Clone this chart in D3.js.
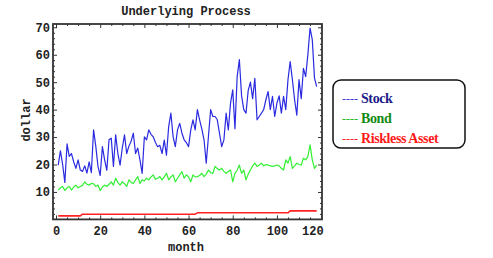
<!DOCTYPE html>
<html>
<head>
<meta charset="utf-8">
<script src="https://cdn.jsdelivr.net/npm/d3@7"></script>
<style>
  body { margin: 0; background: #fff; }
  svg text { font-family: "Liberation Mono", "DejaVu Sans Mono", monospace; }
  .tick text { font-size: 12px; font-weight: bold; fill: #222; }
  .tick line { stroke: #333; stroke-width: 1; }
</style>
</head>
<body>
<div id="chart"></div>
<script>
// months 1..118
var stock = [
  19.8, 25, 20, 13.5, 27.5, 23, 24, 21, 18.6, 21.7,
  18, 17.5, 19.5, 16.9, 21, 17, 32.6, 26.7, 19.3, 16,
  26.5, 21.7, 17.9, 29, 29.6, 19.3, 30.8, 24, 19.8, 26,
  30.8, 24, 26.7, 28.5, 31.4, 24, 26, 21.7, 16.8, 30.1,
  29, 32.6, 31, 30.1, 28, 26.5, 27, 24, 28.9, 23.4,
  33.8, 38.7, 30.2, 26.5, 32.6, 35, 31.4, 29, 28, 26.5,
  32.6, 36.3, 32.6, 40, 36.3, 33, 29, 20.5, 30.2, 40,
  37.5, 37.5, 36.3, 31.4, 26.5, 29, 38.7, 32.6, 42.4, 47.2,
  33, 52, 58.2, 45, 40, 38.7, 47, 50, 44, 51.4,
  36.3, 37.5, 38.7, 40, 43.6, 46.6, 40, 44.8, 37.5, 42.4,
  45, 38.7, 44.8, 40, 50.9, 57.5, 50.9, 43.6, 38, 50.9,
  44, 55, 52, 60, 69.7, 65.5, 51.5, 48.4
];

var bond = [
  10.7, 11.5, 12, 10.5, 11.5, 12, 10.7, 11.8, 12.5, 11.5,
  12, 12.4, 13.7, 12.8, 12.5, 13.1, 13, 12, 12.5, 10.5,
  11.8, 12.5, 12, 12.8, 13.7, 12.5, 15, 13.5, 12.5, 13.7,
  13, 12, 14.4, 13.5, 13.1, 14.4, 15.6, 13.1, 14.4, 14,
  15, 14.4, 15.5, 16.2, 14.6, 15, 15.6, 14.4, 15.5, 16.8,
  14.4, 15.5, 16.2, 13.7, 15, 16.2, 17.4, 15, 16.2, 15.5,
  13.7, 16.2, 15.5, 15.6, 16, 16.8, 15.6, 16.5, 18, 17,
  16.8, 19.3, 18.5, 18, 18.6, 17.5, 16.8, 17.5, 18, 13.7,
  16.8, 18, 19.8, 16.8, 18, 14.4, 16.5, 18, 19.5, 20.5,
  19.3, 19.8, 20.5, 19.5, 20, 19.8, 19.5, 19.3, 19.5, 19.8,
  19.5, 18.6, 18, 21.7, 20.5, 22.9, 18.6, 19.5, 20.5, 20,
  19.8, 22.3, 21.7, 22.9, 27.2, 21.7, 18.6, 19.8
];

var riskless = [
  1.3, 1.3, 1.3, 1.3, 1.3, 1.3, 1.3, 1.3, 1.3, 1.3,
  1.3, 1.9, 1.9, 1.9, 1.9, 1.9, 1.9, 1.9, 1.9, 1.9,
  1.9, 1.9, 1.9, 1.9, 1.9, 1.9, 1.9, 1.9, 1.9, 1.9,
  1.9, 1.9, 1.9, 1.9, 1.9, 1.9, 1.9, 1.9, 1.9, 1.9,
  1.9, 1.9, 1.9, 1.9, 1.9, 1.9, 1.9, 1.9, 1.9, 1.9,
  1.9, 1.9, 1.9, 1.9, 1.9, 1.9, 1.9, 1.9, 1.9, 1.9,
  1.9, 1.9, 1.9, 2.4, 2.4, 2.4, 2.4, 2.4, 2.4, 2.4,
  2.4, 2.4, 2.4, 2.4, 2.4, 2.4, 2.4, 2.4, 2.4, 2.4,
  2.4, 2.4, 2.4, 2.4, 2.4, 2.4, 2.4, 2.4, 2.4, 2.4,
  2.4, 2.4, 2.4, 2.4, 2.4, 2.4, 2.4, 2.4, 2.4, 2.4,
  2.4, 2.4, 2.4, 2.4, 2.4, 3.1, 3.1, 3.1, 3.1, 3.1,
  3.1, 3.1, 3.1, 3.1, 3.1, 3.1, 3.1, 3.1
];

var xTicks = [0, 20, 40, 60, 80, 100, 120];
var yTicks = [10, 20, 30, 40, 50, 60, 70];
var legendNames = ["Stock", "Bond", "Riskless Asset"];

var lineColors = ["#2a2ae0", "#33ee33", "#ff2222"];
var dashColors = ["#3a3ad8", "#22bb22", "#ff2222"];
var textColors = ["#1c1c8a", "#138a13", "#ff1a1a"];

var width = 493, height = 258;
var plot = { left: 53, right: 322, top: 24, bottom: 219.4 };

var svg = d3.select("#chart").append("svg")
    .attr("width", width)
    .attr("height", height);

var x = d3.scaleLinear().domain([-1.36, 120.4]).range([plot.left, plot.right]);
var y = d3.scaleLinear().domain([0, 71.2]).range([plot.bottom, plot.top]);

var xMinor = d3.range(0, 121, 5).filter(d => xTicks.indexOf(d) < 0);
var yMinor = d3.range(2, 71, 2).filter(d => yTicks.indexOf(d) < 0);

// Axes (ticks point inward, like a Mathematica frame)
function addAxis(axis, tx, ty) {
    var g = svg.append("g")
        .attr("transform", `translate(${tx}, ${ty})`)
        .call(axis);
    g.select(".domain").remove();
    return g;
}

var bottomAxis = addAxis(d3.axisBottom(x).tickValues(xTicks).tickSize(-4).tickPadding(7), 0, plot.bottom);
// last label is pushed inside the frame's right edge
bottomAxis.selectAll(".tick text").filter(d => d === 120)
    .attr("text-anchor", "end")
    .attr("dx", 2);
addAxis(d3.axisBottom(x).tickValues(xMinor).tickSize(-2).tickFormat(""), 0, plot.bottom);
addAxis(d3.axisTop(x).tickValues(xTicks).tickSize(-4).tickFormat(""), 0, plot.top);
addAxis(d3.axisTop(x).tickValues(xMinor).tickSize(-2).tickFormat(""), 0, plot.top);

addAxis(d3.axisLeft(y).tickValues(yTicks).tickSize(-4).tickPadding(3), plot.left, 0);
addAxis(d3.axisLeft(y).tickValues(yMinor).tickSize(-2).tickFormat(""), plot.left, 0);
addAxis(d3.axisRight(y).tickValues(yTicks).tickSize(-4).tickFormat(""), plot.right, 0);
addAxis(d3.axisRight(y).tickValues(yMinor).tickSize(-2).tickFormat(""), plot.right, 0);

// Lines
var line = d3.line()
    .x((d, i) => x(i + 1))
    .y(d => y(d));

[stock, bond, riskless].forEach(function(series, i) {
    svg.append("path")
        .datum(series)
        .attr("fill", "none")
        .attr("stroke", lineColors[i])
        .attr("stroke-width", i === 2 ? 1.6 : 1.2)
        .attr("stroke-linejoin", "round")
        .attr("d", line);
});

// Frame
svg.append("rect")
    .attr("x", plot.left)
    .attr("y", plot.top)
    .attr("width", plot.right - plot.left)
    .attr("height", plot.bottom - plot.top)
    .attr("fill", "none")
    .attr("stroke", "#333")
    .attr("stroke-width", 1.8);

// Titles
svg.append("text")
    .attr("x", 186)
    .attr("y", 15)
    .attr("text-anchor", "middle")
    .style("font-size", "12px")
    .style("font-weight", "bold")
    .attr("fill", "#222")
    .text("Underlying Process");

svg.append("text")
    .attr("x", 186)
    .attr("y", 251)
    .attr("text-anchor", "middle")
    .style("font-size", "12px")
    .style("font-weight", "bold")
    .attr("fill", "#222")
    .text("month");

svg.append("text")
    .attr("transform", "rotate(-90)")
    .attr("x", -120)
    .attr("y", 30)
    .attr("text-anchor", "middle")
    .style("font-size", "12px")
    .style("font-weight", "bold")
    .attr("fill", "#222")
    .text("dollar");

// Legend
svg.append("rect")
    .attr("x", 333)
    .attr("y", 80)
    .attr("width", 132)
    .attr("height", 68)
    .attr("rx", 8)
    .attr("fill", "#fff")
    .attr("stroke", "#111")
    .attr("stroke-width", 1.5);

var legendText = svg.append("g").selectAll("text")
    .data(legendNames)
    .enter()
    .append("text")
    .attr("x", 342)
    .attr("y", (d, i) => 103 + i * 20)
    .style("font-family", "'Liberation Serif', 'Times New Roman', serif")
    .style("font-size", "14px");

legendText.append("tspan")
    .attr("fill", (d, i) => dashColors[i])
    .style("font-size", "12px")
    .text("---- ");

legendText.append("tspan")
    .attr("fill", (d, i) => textColors[i])
    .style("font-weight", "bold")
    .style("letter-spacing", "-0.4px")
    .text(d => d);
</script>
</body>
</html>
